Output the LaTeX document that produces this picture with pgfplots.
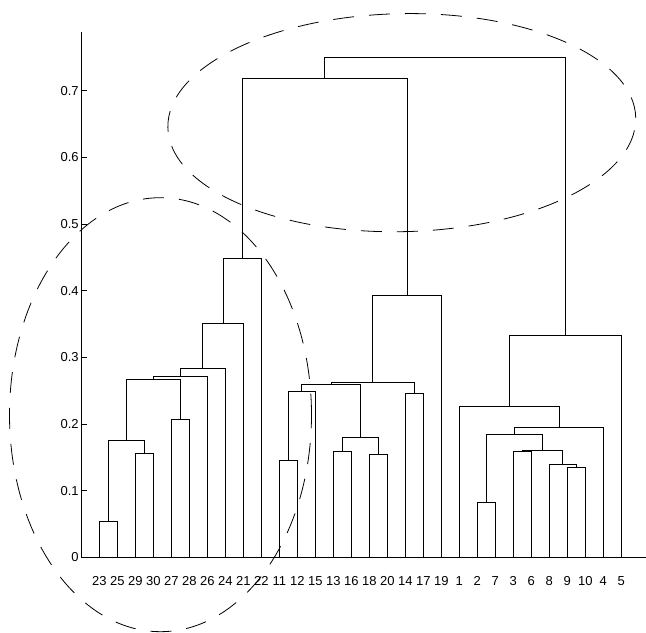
\documentclass[border=0pt]{standalone}
\usepackage{fontspec}
\setmainfont{Liberation Sans}
\usepackage{pgfplots}
\pgfplotsset{compat=1.18}
\begin{document}
\begin{tikzpicture}
\begin{axis}[
  x=18bp, y=666.7bp,
  xmin=0, xmax=31.4, ymin=0, ymax=0.788,
  axis x line=bottom, axis y line=left,
  axis line style={-, black, line width=0.7bp},
  clip=false,
  /pgf/number format/assume math mode=true,
  xtick={1,...,30},
  xticklabels={23,25,29,30,27,28,26,24,21,22,11,12,15,13,16,18,20,14,17,19,1,2,7,3,6,8,9,10,4,5},
  xtick style={draw=none},
  ytick={0,0.1,0.2,0.3,0.4,0.5,0.6,0.7},
  yticklabels={0,0.1,0.2,0.3,0.4,0.5,0.6,0.7},
  tick align=inside,
  major tick length=5.7bp,
  ytick style={black, line width=0.7bp},
  tick label style={font=\fontsize{13bp}{15bp}\selectfont, black},
  xticklabel style={yshift=-16bp},
  yticklabel style={inner sep=2.5bp},
  dend/.style={black, line width=0.7bp, no markers, sharp plot},
]
% left cluster
\addplot[dend] coordinates {(1,0) (1,0.054) (2,0.054) (2,0)};
\addplot[dend] coordinates {(3,0) (3,0.156) (4,0.156) (4,0)};
\addplot[dend] coordinates {(1.5,0.054) (1.5,0.1755) (3.5,0.1755) (3.5,0.156)};
\addplot[dend] coordinates {(5,0) (5,0.207) (6,0.207) (6,0)};
\addplot[dend] coordinates {(2.5,0.1755) (2.5,0.2675) (5.5,0.2675) (5.5,0.207)};
\addplot[dend] coordinates {(4,0.2675) (4,0.272) (7,0.272) (7,0)};
\addplot[dend] coordinates {(5.5,0.272) (5.5,0.284) (8,0.284) (8,0)};
\addplot[dend] coordinates {(6.75,0.284) (6.75,0.351) (9,0.351) (9,0)};
\addplot[dend] coordinates {(7.875,0.351) (7.875,0.449) (10,0.449) (10,0)};
% middle cluster
\addplot[dend] coordinates {(11,0) (11,0.1455) (12,0.1455) (12,0)};
\addplot[dend] coordinates {(11.5,0.1455) (11.5,0.2495) (13,0.2495) (13,0)};
\addplot[dend] coordinates {(14,0) (14,0.1584) (15,0.1584) (15,0)};
\addplot[dend] coordinates {(16,0) (16,0.1539) (17,0.1539) (17,0)};
\addplot[dend] coordinates {(14.5,0.1584) (14.5,0.18) (16.5,0.18) (16.5,0.1539)};
\addplot[dend] coordinates {(12.25,0.2495) (12.25,0.2595) (15.5,0.2595) (15.5,0.18)};
\addplot[dend] coordinates {(18,0) (18,0.2465) (19,0.2465) (19,0)};
\addplot[dend] coordinates {(13.875,0.2595) (13.875,0.262) (18.5,0.262) (18.5,0.2465)};
\addplot[dend] coordinates {(16.1875,0.262) (16.1875,0.393) (20,0.393) (20,0)};
\addplot[dend] coordinates {(8.9375,0.449) (8.9375,0.7185) (18.09375,0.7185) (18.09375,0.393)};
% right cluster
\addplot[dend] coordinates {(22,0) (22,0.083) (23,0.083) (23,0)};
\addplot[dend] coordinates {(27,0) (27,0.135) (28,0.135) (28,0)};
\addplot[dend] coordinates {(26,0) (26,0.1395) (27.5,0.1395) (27.5,0.135)};
\addplot[dend] coordinates {(24,0) (24,0.1584) (25,0.1584) (25,0)};
\addplot[dend] coordinates {(24.5,0.1584) (24.5,0.1605) (26.75,0.1605) (26.75,0.1395)};
\addplot[dend] coordinates {(22.5,0.083) (22.5,0.1845) (25.625,0.1845) (25.625,0.1605)};
\addplot[dend] coordinates {(24.0625,0.1845) (24.0625,0.195) (29,0.195) (29,0)};
\addplot[dend] coordinates {(21,0) (21,0.2265) (26.53125,0.2265) (26.53125,0.195)};
\addplot[dend] coordinates {(23.765625,0.2265) (23.765625,0.3335) (30,0.3335) (30,0)};
% root
\addplot[dend] coordinates {(13.515625,0.7185) (13.515625,0.7505) (26.8828125,0.7505) (26.8828125,0.3335)};
% dashed ellipses (annotations)
\draw[black, line width=0.8bp, dash pattern=on 21bp off 15bp]
  (axis cs:4.4,0.2139) ellipse [x radius=151bp, y radius=217bp];
\draw[black, line width=0.8bp, dash pattern=on 21bp off 15bp, rotate around={1.2:(axis cs:17.806,0.6519)}]
  (axis cs:17.806,0.6519) ellipse [x radius=234bp, y radius=109bp];
\coordinate (bbll) at (axis cs:-4.5167,-0.11355);
\coordinate (bbur) at (axis cs:31.372,0.8359);
\end{axis}
\pgfresetboundingbox
\path[use as bounding box] (bbll) rectangle (bbur);
\end{tikzpicture}
\end{document}
